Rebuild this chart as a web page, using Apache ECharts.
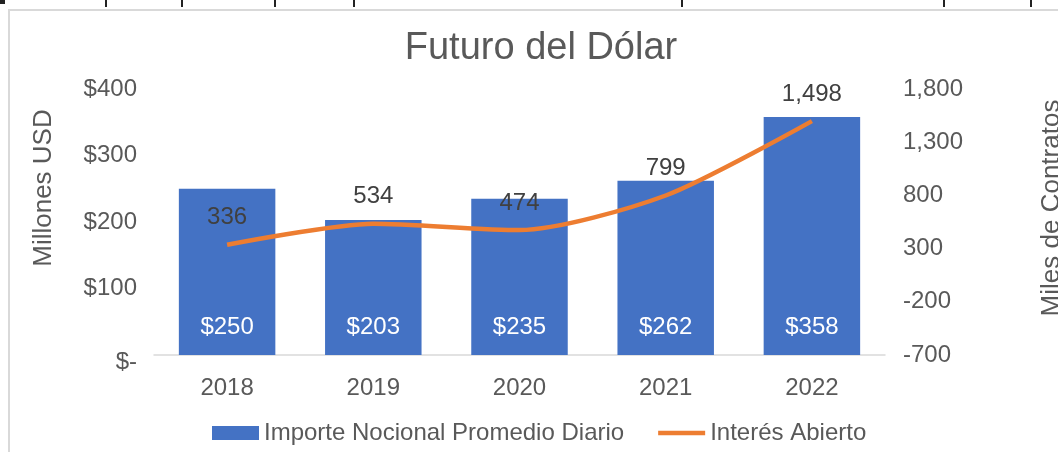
<!DOCTYPE html>
<html>
<head>
<meta charset="utf-8">
<script src="https://cdn.jsdelivr.net/npm/echarts@6/dist/echarts.min.js"></script>
<style>
  html, body { margin: 0; padding: 0; background: #fff; }
  #chart { width: 1058px; height: 452px; }
</style>
</head>
<body>
<div id="chart"></div>
<script>
var years = ['2018', '2019', '2020', '2021', '2022'];
var importe = [250, 203, 235, 262, 358];     // Millones USD
var interes = [336, 534, 474, 799, 1498];    // Miles de Contratos

var font = '"Liberation Sans", Arial, sans-serif';
var gris = '#595959';

function miles(v) {
    return Number(v).toLocaleString('en-US');
}

// pedacitos de texto de la linea de arriba (recortados en la captura)
var cortes = [105, 181, 274, 353, 681, 943, 1030];
var graficos = cortes.map(function (x) {
    return { type: 'rect', shape: { x: x, y: 0, width: 2, height: 7 }, style: { fill: '#222' }, silent: true };
});
graficos.push({ type: 'rect', shape: { x: 0, y: 0, width: 5, height: 4 }, style: { fill: '#222' }, silent: true });
// marco del area del grafico
graficos.push({
    type: 'rect', shape: { x: 9, y: 10, width: 1100, height: 500 },
    style: { fill: null, stroke: '#d9d9d9', lineWidth: 2 }, silent: true, z: -1
});
// titulos de ejes
graficos.push({
    type: 'text', x: 44, y: 188, rotation: Math.PI / 2,
    style: { text: 'Millones USD', font: '26px ' + font, fill: gris, align: 'center', verticalAlign: 'middle' }
});
graficos.push({
    type: 'text', x: 1052, y: 208, rotation: Math.PI / 2,
    style: { text: 'Miles de Contratos', font: '26px ' + font, fill: gris, align: 'center', verticalAlign: 'middle' }
});

var dom = document.getElementById('chart');
var myChart = echarts.init(dom);

var option = {
    animation: false,
    backgroundColor: '#fff',
    title: {
        text: 'Futuro del Dólar',
        left: 541,
        top: 30,
        padding: 0,
        textAlign: 'center',
        textStyle: { fontFamily: font, fontSize: 38, fontWeight: 'normal', color: gris }
    },
    legend: {
        left: 212,
        top: 421,
        padding: 0,
        itemGap: 34,
        itemWidth: 47,
        itemHeight: 14,
        textStyle: { fontFamily: font, fontSize: 24, color: gris },
        data: [
            { name: 'Importe Nocional Promedio Diario', icon: 'rect' },
            { name: 'Interés Abierto', icon: 'path://M0,0H50V5H0Z' }
        ]
    },
    grid: { left: 154, right: 173, top: 89, bottom: 97 },
    xAxis: {
        type: 'category',
        data: years,
        axisTick: { show: false },
        axisLine: { lineStyle: { color: '#d9d9d9', width: 1.5 } },
        axisLabel: { fontFamily: font, fontSize: 24, color: gris, margin: 21 }
    },
    yAxis: [{
        type: 'value',
        min: 0,
        max: 400,
        interval: 100,
        splitLine: { show: false },
        axisLine: { show: false },
        axisTick: { show: false },
        axisLabel: {
            fontFamily: font, fontSize: 24, color: gris, margin: 17,
            formatter: function (v) { return v === 0 ? '{z|$-}' : '$' + v; },
            rich: { z: { fontFamily: font, fontSize: 24, color: gris, padding: [14, 0, 0, 0] } }
        }
    }, {
        type: 'value',
        min: -700,
        max: 1800,
        interval: 500,
        splitLine: { show: false },
        axisLine: { show: false },
        axisTick: { show: false },
        axisLabel: { fontFamily: font, fontSize: 24, color: gris, margin: 18, formatter: miles }
    }],
    series: [{
        name: 'Importe Nocional Promedio Diario',
        type: 'bar',
        data: importe,
        barCategoryGap: '34%',
        itemStyle: { color: '#4472C4' },
        label: {
            show: true,
            position: 'insideBottom',
            distance: 16,
            fontFamily: font,
            fontSize: 24,
            color: '#fff',
            formatter: function (p) { return '$' + p.value; }
        }
    }, {
        name: 'Interés Abierto',
        type: 'line',
        yAxisIndex: 1,
        data: interes,
        smooth: 0.25,
        symbol: 'circle',
        symbolSize: 0,
        showSymbol: true,
        lineStyle: { color: '#ED7D31', width: 4.5 },
        itemStyle: { color: '#ED7D31' },
        label: {
            show: true,
            position: 'top',
            distance: 15,
            fontFamily: font,
            fontSize: 24,
            color: '#404040',
            formatter: function (p) { return miles(p.value); }
        }
    }],
    graphic: graficos
};

myChart.setOption(option);
</script>
</body>
</html>
